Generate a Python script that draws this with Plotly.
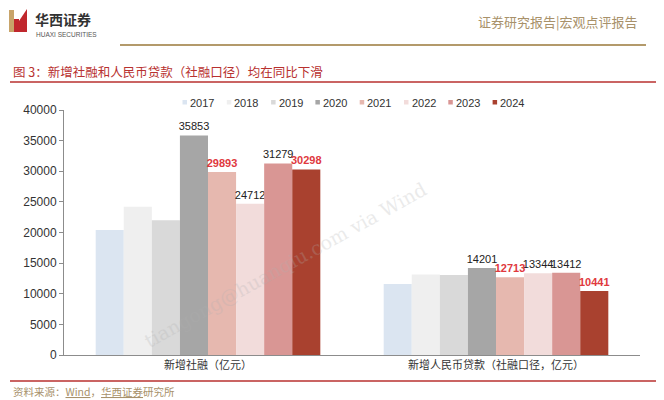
import plotly.graph_objects as go

categories = ["新增社融（亿元）", "新增人民币贷款（社融口径，亿元）"]
years = ["2017", "2018", "2019", "2020", "2021", "2022", "2023", "2024"]
values = {
    "2017": [20400, 11600],
    "2018": [24200, 13150],
    "2019": [22000, 13050],
    "2020": [35853, 14201],
    "2021": [29893, 12713],
    "2022": [24712, 13344],
    "2023": [31279, 13412],
    "2024": [30298, 10441],
}
labelled_years = ["2020", "2021", "2022", "2023", "2024"]
highlight_years = ["2021", "2024"]
colors = ["#dbe5f1", "#efefef", "#d9d9d9", "#a6a6a6", "#e6b8af", "#f2dcdb", "#d99694", "#a9412f"]
y_ticks = [0, 5000, 10000, 15000, 20000, 25000, 30000, 35000, 40000]

FONT = "Liberation Sans, Arial, Noto Sans CJK SC, sans-serif"
CJK = "Noto Sans CJK SC, sans-serif"

# page offset (html body margin)
OFF = 8
W, H = 664, 400
L, R, T, B = 64 - OFF, 664 - (640 - OFF), 110 - OFF, 400 - (355 - OFF)
pw, ph = W - L - R, H - T - B


def px(x):
    return (x - OFF - L) / pw


def py(y):
    return (H - B - (y - OFF)) / ph


fig = go.Figure()
for yr, col in zip(years, colors):
    vals = values[yr]
    hl = yr in highlight_years
    txt = [str(v) if yr in labelled_years else "" for v in vals]
    fig.add_trace(go.Bar(
        x=categories, y=vals, name=yr, marker=dict(color=col, line=dict(width=0)),
        text=txt, textposition="outside", cliponaxis=False, constraintext="none",
        textfont=dict(size=11, color="#e0393e" if hl else "#222",
                      family=FONT, weight="bold" if hl else "normal"),
        showlegend=False,
    ))

shapes = []
annotations = []
# custom legend
for i, (yr, col) in enumerate(zip(years, colors)):
    xl = 189 + i * 44.3
    shapes.append(dict(type="rect", xref="paper", yref="paper",
                       x0=px(xl - 6.5), x1=px(xl - 2), y0=py(104.5), y1=py(100),
                       fillcolor=col, line=dict(width=0)))
    annotations.append(dict(text=yr, xref="paper", yref="paper", x=px(xl - 1), y=py(102.5),
                            xanchor="left", yanchor="middle", showarrow=False,
                            font=dict(size=11, color="#333", family=FONT)))

fig.update_layout(
    width=W, height=H,
    margin=dict(l=L, r=R, t=T, b=B),
    plot_bgcolor="white", paper_bgcolor="white",
    barmode="group", bargap=0.22, bargroupgap=0,
    xaxis=dict(showline=True, linecolor="#8c8c8c", linewidth=1.2, ticks="",
               tickfont=dict(size=11, color="#333", family=CJK), showgrid=False),
    yaxis=dict(range=[0, 40000], tickvals=y_ticks, tickformat="d", showline=True,
               linecolor="#8c8c8c", linewidth=1, ticks="outside", ticklen=4,
               tickcolor="#8c8c8c", showgrid=False, zeroline=False,
               tickfont=dict(size=12, color="#333", family=FONT)),
    font=dict(family=FONT),
)

shapes += [
    dict(type="rect", xref="paper", yref="paper", x0=px(9), x1=px(14), y0=py(32), y1=py(10),
         fillcolor="#c8a46a", line=dict(width=0)),
    dict(type="rect", xref="paper", yref="paper", x0=px(14), x1=px(19), y0=py(32), y1=py(19),
         fillcolor="#c0272d", line=dict(width=0)),
    dict(type="path", xref="paper", yref="paper",
         path=f"M {px(19)},{py(32)} L {px(19)},{py(21)} L {px(27)},{py(9)} L {px(27)},{py(32)} Z",
         fillcolor="#c0272d", line=dict(width=0)),
    dict(type="line", xref="paper", yref="paper", x0=px(120), x1=px(646), y0=py(45), y1=py(45),
         line=dict(color="#b39a6b", width=2)),
    dict(type="line", xref="paper", yref="paper", x0=px(10), x1=px(658), y0=py(82), y1=py(82),
         line=dict(color="#b8312f", width=1.5)),
    dict(type="line", xref="paper", yref="paper", x0=px(10), x1=px(658), y0=py(381), y1=py(381),
         line=dict(color="#b8312f", width=1.5)),
]

annotations += [
    dict(text="<b>华西证券</b>", xref="paper", yref="paper", x=px(34), y=py(8),
         xanchor="left", yanchor="top", showarrow=False, borderpad=0,
         font=dict(size=14, color="#333", family=CJK)),
    dict(text="HUAXI SECURITIES", xref="paper", yref="paper", x=px(35), y=py(34),
         xanchor="left", yanchor="middle", showarrow=False, borderpad=0,
         font=dict(size=6.5, color="#555", family=FONT)),
    dict(text="证券研究报告|宏观点评报告", xref="paper", yref="paper", x=px(640), y=py(21),
         xanchor="right", yanchor="middle", showarrow=False,
         font=dict(size=13, color="#a8916a", family=CJK)),
    dict(text="图 3：新增社融和人民币贷款（社融口径）均在同比下滑", xref="paper", yref="paper",
         x=px(11), y=py(72), xanchor="left", yanchor="middle", showarrow=False,
         font=dict(size=12.5, color="#b8312f", family=CJK)),
    dict(text="资料来源：<u>Wind</u>，<u>华西证券</u>研究所", xref="paper", yref="paper",
         x=px(11), y=py(391), xanchor="left", yanchor="middle", showarrow=False,
         font=dict(size=10.5, color="#a8916a", family=CJK)),
    dict(text="tiangong@huanqiu.com via Wind", xref="paper", yref="paper",
         x=px(285), y=py(265), xanchor="center", yanchor="middle", showarrow=False,
         textangle=-29, opacity=0.25,
         font=dict(size=19, color="#b0b0b0", family="DejaVu Serif, serif")),
]

fig.update_layout(shapes=shapes, annotations=annotations)
fig.write_html("out.html")
